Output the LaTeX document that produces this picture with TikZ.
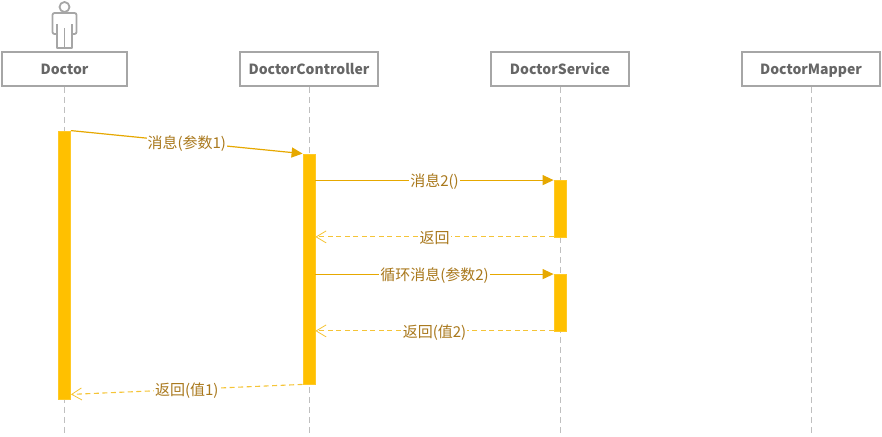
\documentclass[tikz,border=0pt]{standalone}
\usepackage{fontspec}
\setmainfont{Noto Sans CJK SC}
\usepackage{tikz}
\usetikzlibrary{positioning,calc,arrows.meta}

\definecolor{headgray}{HTML}{A6A6A6}
\definecolor{lifegray}{HTML}{BFBFBF}
\definecolor{textgray}{HTML}{666666}
\definecolor{msgamber}{HTML}{E6A800}
\definecolor{baramber}{HTML}{FFC000}
\definecolor{retamber}{HTML}{F5C437}
\definecolor{labelamber}{HTML}{A9781C}

\tikzset{
    headbox/.style={draw=headgray, line width=1.8pt, fill=white, minimum height=34pt, inner sep=0pt,
        text=textgray, text height=13pt, text depth=2pt, font=\fontsize{14}{16}\selectfont\bfseries},
    lifeline/.style={draw=lifegray, line width=1pt, dash pattern=on 6pt off 4pt},
    activebar/.style={draw=baramber!85!white, fill=baramber, line width=0.8pt, minimum width=12pt, inner sep=0pt},
    callmsg/.style={draw=msgamber, line width=1.2pt, -{Triangle[length=11pt,width=10pt,fill=msgamber]}},
    returnmsg/.style={draw=retamber, line width=1.1pt, dash pattern=on 5pt off 3.5pt, -{Straight Barb[length=10pt,width=12pt,line width=0.8pt]}},
    msglabel/.style={fill=white, inner sep=1pt, text=labelamber, text height=14pt, text depth=1pt, font=\fontsize{15}{16}\selectfont},
    actorline/.style={draw=headgray, line width=1.8pt, line join=round},
}

\begin{document}
\begin{tikzpicture}[x=1pt, y=-1pt]
    \useasboundingbox (0,0) rectangle (882,436);

    % Actor figure
    \draw[actorline] (64.5,7) circle (5);
    \draw[actorline] (57,24) -- (57,48) -- (72,48) -- (72,24);
    \draw[actorline] (64.5,28) -- (64.5,48);
    \draw[actorline, rounded corners=2pt] (57,34) -- (52.5,34) -- (52.5,13) -- (76.5,13) -- (76.5,34) -- (72,34);

    % Heads of the lifelines
    \node[headbox, minimum width=125pt] (doctor) at (64.5,69) {Doctor};
    \node[headbox, minimum width=138pt] (controller) at (309,69) {DoctorController};
    \node[headbox, minimum width=138pt] (service) at (560,69) {DoctorService};
    \node[headbox, minimum width=138pt] (mapper) at (811,69) {DoctorMapper};

    % Lifelines
    \foreach \head in {doctor,controller,service,mapper} {
        \coordinate (\head end) at ($(\head.south)+(0,348)$);
        \draw[lifeline] (\head.south) -- (\head end);
    }

    % Activation bars
    \node[activebar, minimum height=268pt] (doctorbar) at (64.5,265) {};
    \node[activebar, minimum height=230pt] (controllerbar) at (309,269) {};
    \node[activebar, minimum height=57pt] (servicebar) at (560,208.5) {};
    \node[activebar, minimum height=57pt] (loopbar) at (560,302.5) {};

    % Messages
    \draw[callmsg] (doctorbar.north east) -- node[msglabel] {消息(参数1)} (controllerbar.north west);
    \draw[callmsg] ($(controllerbar.east |- servicebar.north)+(0,0.5)$) -- node[msglabel] {消息2()} ($(servicebar.north west)+(0,0.5)$);
    \draw[returnmsg] ($(servicebar.south west)+(0,-0.5)$) -- node[msglabel] {返回} ($(controllerbar.east |- servicebar.south)+(0,-0.5)$);
    \draw[callmsg] ($(controllerbar.east |- loopbar.north)+(0,0.5)$) -- node[msglabel] {循环消息(参数2)} ($(loopbar.north west)+(0,0.5)$);
    \draw[returnmsg] ($(loopbar.south west)+(0,-0.5)$) -- node[msglabel] {返回(值2)} ($(controllerbar.east |- loopbar.south)+(0,-0.5)$);
    \draw[returnmsg] (controllerbar.south west) -- node[msglabel] {返回(值1)} ($(doctorbar.south east)+(0,-5)$);
\end{tikzpicture}
\end{document}
